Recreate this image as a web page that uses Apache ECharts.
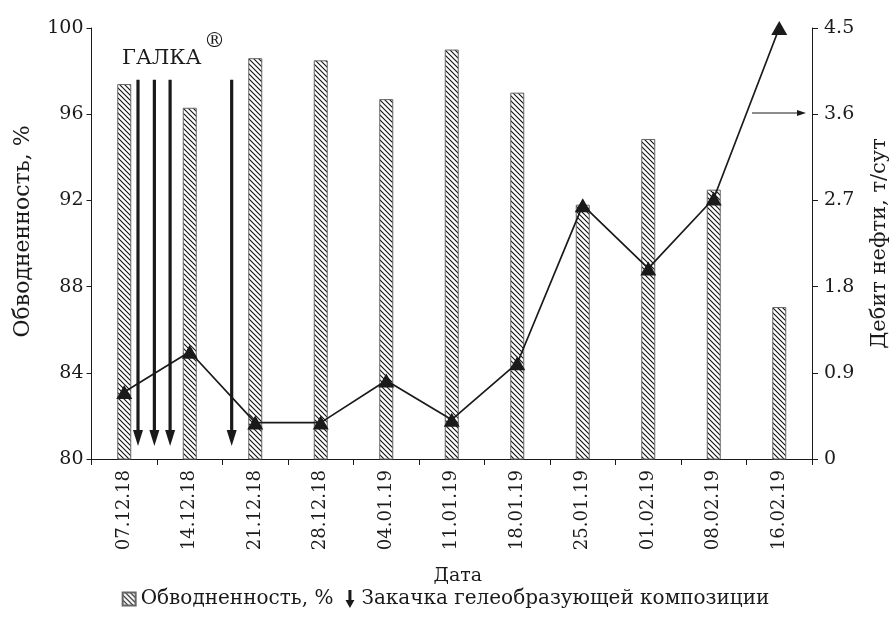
<!DOCTYPE html>
<html>
<head>
<meta charset="utf-8">
<script src="https://cdn.jsdelivr.net/npm/echarts@6/dist/echarts.min.js"></script>
<style>
  html, body { margin: 0; padding: 0; background: #fff; }
  #chart { width: 891px; height: 619px; }
</style>
</head>
<body>
<div id="chart"></div>
<script>
// Sampling dates
const dates = ['07.12.18', '14.12.18', '21.12.18', '28.12.18', '04.01.19', '11.01.19',
               '18.01.19', '25.01.19', '01.02.19', '08.02.19', '16.02.19'];
// Water cut, %
const waterCut = [97.4, 96.3, 98.6, 98.5, 96.7, 99.0, 97.0, 91.8, 94.85, 92.5, 87.05];
// Oil rate, t/day
const oilRate = [0.70, 1.12, 0.38, 0.38, 0.82, 0.41, 1.00, 2.65, 1.99, 2.72, 4.5];
// Gel-forming composition injections, positions in date-index units
const injectionAt = [0.21, 0.46, 0.70, 1.64];
// Vertical extent of injection arrows on the water-cut scale (from, to)
const injectionSpan = [97.6, 80.6];
// Axis scales: [min, max, interval]
const waterCutScale = [80, 100, 4];
const oilRateScale = [0, 4.5, 0.9];

const FONT = 'DejaVu Serif';
const INK = '#1a1a1a';

function hatchPattern() {
  const s = 5;
  const c = document.createElement('canvas');
  c.width = s; c.height = s;
  const g = c.getContext('2d');
  g.fillStyle = '#ffffff';
  g.fillRect(0, 0, s, s);
  g.strokeStyle = '#111';
  g.lineWidth = 1.1;
  g.beginPath();
  g.moveTo(0, 0); g.lineTo(s, s);
  g.moveTo(-1, s - 1); g.lineTo(1, s + 1);
  g.moveTo(s - 1, -1); g.lineTo(s + 1, 1);
  g.stroke();
  return { image: c, repeat: 'repeat' };
}

const chart = echarts.init(document.getElementById('chart'), null, { renderer: 'canvas' });

const textBase = { fontFamily: FONT, color: INK };

const option = {
  backgroundColor: '#ffffff',
  animation: false,
  textStyle: { fontFamily: FONT },
  grid: { left: 91.5, right: 79, top: 28, bottom: 160, containLabel: false, outerBoundsMode: 'none' },
  legend: {
    top: 584,
    left: 'center',
    itemWidth: 13,
    itemHeight: 18,
    itemGap: 12,
    symbolKeepAspect: true,
    textStyle: { fontFamily: FONT, fontSize: 20, color: INK },
    data: [
      { name: 'Обводненность, %', icon: 'path://M0,0 L10,0 L10,10 L0,10 Z' },
      { name: 'Закачка гелеобразующей композиции',
        icon: 'path://M3,0 L6,0 L6,10 L9,10 L4.5,18 L0,10 L3,10 Z',
        itemStyle: { color: INK } }
    ]
  },
  xAxis: [
    {
      type: 'category',
      data: dates,
      boundaryGap: true,
      name: 'Дата',
      nameLocation: 'middle',
      nameGap: 108,
      nameTextStyle: { ...textBase, fontSize: 19, padding: [0, 0, 0, 12] },
      axisLine: { onZero: false, lineStyle: { color: INK, width: 1 } },
      axisTick: { show: true, alignWithLabel: false, length: 6, lineStyle: { color: INK } },
      axisLabel: { ...textBase, fontSize: 18, rotate: 90, margin: 11, interval: 0 },
      splitLine: { show: false }
    },
    {
      type: 'value',
      min: -0.5,
      max: dates.length - 0.5,
      show: false,
      axisLine: { onZero: false }
    }
  ],
  yAxis: [
    {
      type: 'value',
      min: waterCutScale[0], max: waterCutScale[1], interval: waterCutScale[2],
      name: 'Обводненность, %',
      nameLocation: 'middle',
      nameRotate: 90,
      nameGap: 57,
      nameTextStyle: { ...textBase, fontSize: 22, padding: [0, 0, 0, 24] },
      axisLine: { show: true, onZero: false, lineStyle: { color: INK, width: 1 } },
      axisTick: { show: true, length: 5, lineStyle: { color: INK } },
      axisLabel: { ...textBase, fontSize: 19, margin: 8 },
      splitLine: { show: false }
    },
    {
      type: 'value',
      position: 'right',
      min: oilRateScale[0], max: oilRateScale[1], interval: oilRateScale[2],
      name: 'Дебит нефти, т/сут',
      nameLocation: 'middle',
      nameRotate: 90,
      nameGap: 57,
      nameTextStyle: { ...textBase, fontSize: 21 },
      axisLine: { show: true, onZero: false, lineStyle: { color: INK, width: 1 } },
      axisTick: { show: true, length: 6, lineStyle: { color: INK } },
      axisLabel: { ...textBase, fontSize: 19, margin: 12 },
      splitLine: { show: false }
    }
  ],
  series: [
    {
      name: 'Обводненность, %',
      type: 'bar',
      xAxisIndex: 0,
      yAxisIndex: 0,
      data: waterCut,
      barWidth: 14,
      itemStyle: { color: hatchPattern(), borderColor: '#666', borderWidth: 1 },
      z: 2
    },
    {
      name: 'Закачка гелеобразующей композиции',
      type: 'custom',
      xAxisIndex: 1,
      yAxisIndex: 0,
      data: injectionAt.map(x => [x, injectionSpan[0], injectionSpan[1]]),
      encode: { x: 0, y: [1, 2] },
      itemStyle: { color: INK },
      renderItem: function (params, api) {
        const top = api.coord([api.value(0), api.value(1)]);
        const tip = api.coord([api.value(0), api.value(2)]);
        const headH = 16, headW = 10;
        return {
          type: 'group',
          children: [
            {
              type: 'line',
              shape: { x1: top[0], y1: top[1], x2: tip[0], y2: tip[1] - headH + 2 },
              style: { stroke: INK, lineWidth: 3.2 }
            },
            {
              type: 'polygon',
              shape: { points: [[tip[0] - headW / 2, tip[1] - headH], [tip[0] + headW / 2, tip[1] - headH], [tip[0], tip[1]]] },
              style: { fill: INK }
            }
          ]
        };
      },
      z: 3
    },
    {
      name: 'Дебит нефти',
      type: 'line',
      xAxisIndex: 0,
      yAxisIndex: 1,
      data: oilRate,
      symbol: 'triangle',
      symbolSize: [16, 14],
      showAllSymbol: true,
      lineStyle: { color: INK, width: 1.7 },
      itemStyle: { color: INK, borderWidth: 0 },
      z: 4
    }
  ],
  graphic: [
    {
      type: 'text',
      left: 122, top: 48,
      style: { text: 'ГАЛКА', font: '21px "DejaVu Serif"', fill: INK }
    },
    {
      type: 'text',
      left: 204, top: 31,
      style: { text: '®', font: '21px "DejaVu Serif"', fill: INK }
    },
    {
      type: 'line',
      shape: { x1: 752, y1: 113, x2: 800, y2: 113 },
      style: { stroke: INK, lineWidth: 1 }
    },
    {
      type: 'polygon',
      shape: { points: [[797, 110], [806, 113], [797, 116]] },
      style: { fill: INK }
    }
  ]
};

chart.setOption(option);
</script>
</body>
</html>
